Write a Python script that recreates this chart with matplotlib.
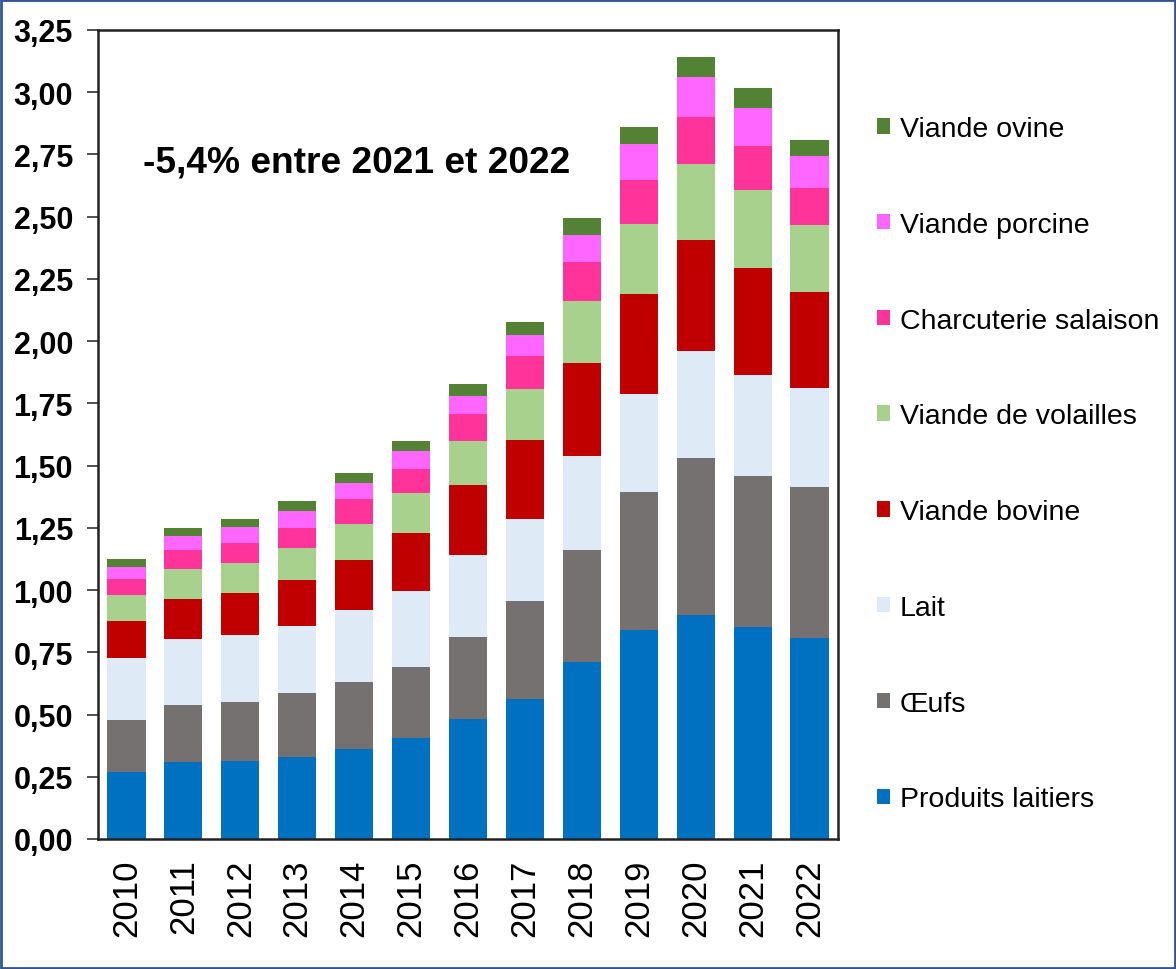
import matplotlib
matplotlib.use("Agg")
import matplotlib.pyplot as plt
from matplotlib.patches import Rectangle, Patch
import numpy as np

years = ["2010", "2011", "2012", "2013", "2014", "2015", "2016",
         "2017", "2018", "2019", "2020", "2021", "2022"]

produits_laitiers = [0.270, 0.311, 0.315, 0.331, 0.363, 0.405, 0.484, 0.564, 0.710, 0.840, 0.899, 0.852, 0.809]
oeufs = [0.208, 0.226, 0.236, 0.255, 0.266, 0.287, 0.329, 0.394, 0.451, 0.553, 0.630, 0.608, 0.607]
lait = [0.250, 0.268, 0.269, 0.269, 0.290, 0.306, 0.328, 0.328, 0.376, 0.395, 0.430, 0.403, 0.394]
viande_bovine = [0.146, 0.161, 0.169, 0.186, 0.203, 0.230, 0.283, 0.318, 0.374, 0.400, 0.449, 0.431, 0.386]
viande_volailles = [0.105, 0.118, 0.121, 0.127, 0.145, 0.160, 0.176, 0.204, 0.250, 0.283, 0.305, 0.313, 0.271]
charcuterie = [0.066, 0.075, 0.078, 0.083, 0.098, 0.099, 0.106, 0.134, 0.157, 0.178, 0.189, 0.177, 0.148]
viande_porcine = [0.049, 0.057, 0.064, 0.067, 0.067, 0.070, 0.075, 0.081, 0.110, 0.143, 0.160, 0.153, 0.130]
viande_ovine = [0.030, 0.035, 0.035, 0.039, 0.039, 0.043, 0.046, 0.055, 0.065, 0.069, 0.079, 0.082, 0.064]

series_names = ["Produits laitiers", "Œufs", "Lait", "Viande bovine",
                "Viande de volailles", "Charcuterie salaison", "Viande porcine", "Viande ovine"]
series_values = [produits_laitiers, oeufs, lait, viande_bovine,
                 viande_volailles, charcuterie, viande_porcine, viande_ovine]
series_colors = ["#0070C0", "#767171", "#DEEBF7", "#C00000",
                 "#A9D18E", "#FF3399", "#FF66FF", "#548235"]

yticks = [0.0, 0.25, 0.5, 0.75, 1.0, 1.25, 1.5, 1.75, 2.0, 2.25, 2.5, 2.75, 3.0, 3.25]
ytick_labels = ["0,00", "0,25", "0,50", "0,75", "1,00", "1,25", "1,50", "1,75",
                "2,00", "2,25", "2,50", "2,75", "3,00", "3,25"]
annotation = "-5,4% entre 2021 et 2022"

plt.rcParams['font.family'] = ['Liberation Sans', 'DejaVu Sans']

W, H = 1176, 970
fig = plt.figure(figsize=(W / 100, H / 100), dpi=100)
ax = fig.add_axes([98 / W, (H - 840) / H, 740 / W, 809 / H])

x = np.arange(len(years))
bottom = np.zeros(len(years))
handles = []
for name, vals, col in zip(series_names, series_values, series_colors):
    vals = np.array(vals)
    ax.bar(x, vals, width=0.67, bottom=bottom, color=col, edgecolor='none', label=name)
    bottom += vals
    handles.append(Patch(facecolor=col, edgecolor='none', label=name))

ax.set_xlim(-0.5, len(years) - 0.5)
ax.set_ylim(0, 3.25)
ax.set_yticks(yticks)
ax.set_yticklabels(ytick_labels, fontsize=22, fontweight='bold')
ax.set_xticks(x)
ax.set_xticklabels(years, rotation=90, fontsize=25)
ax.tick_params(axis='y', direction='out', length=8, width=1.2, pad=10, colors='#333333', labelcolor='black')
ax.tick_params(axis='x', length=0, pad=14)
for s in ax.spines.values():
    s.set_linewidth(1.8)
    s.set_color('#222222')

ax.text(0.061, 0.837, annotation, transform=ax.transAxes, fontsize=26.7,
        fontweight='bold', va='center', ha='left')

leg = fig.legend(handles[::-1], series_names[::-1], loc='upper left',
                 bbox_to_anchor=(877 / W, (H - 117) / H), frameon=False,
                 fontsize=20.5, handlelength=0.45, handleheight=0.45,
                 handletextpad=0.35, labelspacing=2.45, borderpad=0, borderaxespad=0)

fig.patches.append(Rectangle((0.001, 0.001), 0.998, 0.998, transform=fig.transFigure,
                             fill=False, edgecolor='#2F5597', linewidth=2))

fig.savefig("out.png", dpi=100)
